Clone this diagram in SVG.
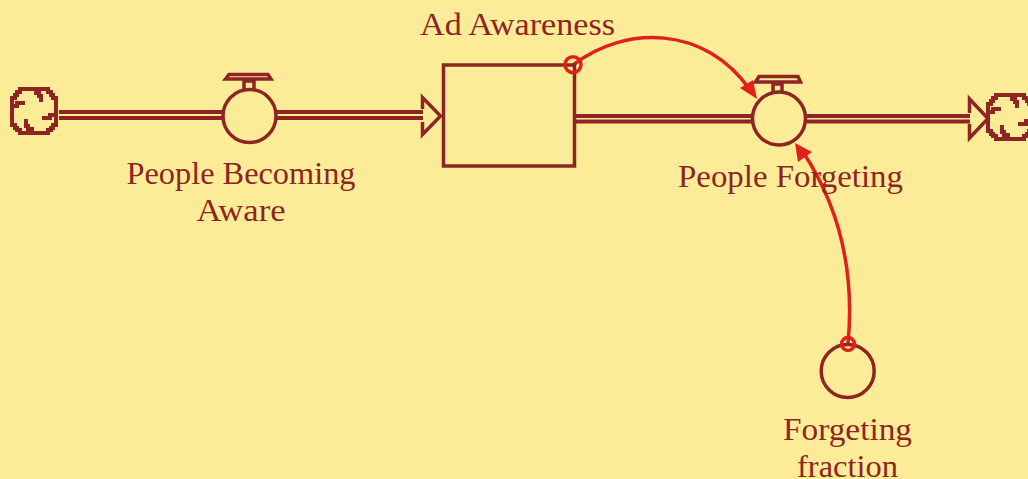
<svg xmlns="http://www.w3.org/2000/svg" width="1028" height="479" viewBox="0 0 1028 479">
<style>
.s{fill:none;stroke:#8f2424;stroke-width:3.500}
.p{stroke:#8f2424;stroke-width:4;fill:none}
.r{fill:none;stroke:#e0201a;stroke-width:3.500}
.a{fill:#e0201a}
.c{fill:none;stroke:#8f2424;stroke-width:4;shape-rendering:crispEdges}
text{font-family:"Liberation Serif","DejaVu Serif",serif;font-size:32px;fill:#8f2424;text-anchor:middle}
</style>
<defs>
<g id="cloud">
<path class="c" d="M-14,-22H14V-19H17V-16H19V-13H22V14H19V17H17V19H14V22H-14V19H-17V17H-19V14H-22V-13H-19V-16H-17V-19H-14Z"/>
<path class="c" d="M2,-22V-18H5V-15H7V-9M22,1V4H16V7H8M-2,22V18H-6V15H-8V8M-22,-2V-5H-17V-8H-9"/>
</g>
</defs>
<rect width="1028" height="479" fill="#fcec97"/>
<g id="connectors">
<path class="p" d="M59,112H222M59,118H222M277,112H423M277,118H423"/>
<path class="s" d="M422.500,109V97.500L440.500,116L422.500,134.500V122"/>
<path class="p" d="M575,116H752M575,121.500H752M807,116H970M807,121.500H970"/>
<path class="s" d="M969.500,113V99L988,118.500L969.500,138V124"/>
<path class="r" d="M573,65C625,25 705,25 750,90"/>
<polygon class="a" points="757,99 740,88 753,80"/>
<path class="r" d="M848,344C855,270 838,205 803,152"/>
<polygon class="a" points="795,143 812,152 798,162"/>
</g>
<g id="cloud-left"><use href="#cloud" x="34" y="111"/></g>
<g id="cloud-right"><use href="#cloud" x="1010" y="117"/></g>
<g id="people-becoming-aware">
<circle class="s" cx="249.500" cy="116" r="26.500"/>
<path class="s" d="M244,89V81H254V89M225.500,79L229,74.500H268L271,79Z"/>
<text x="241" y="184" textLength="229" lengthAdjust="spacingAndGlyphs">People Becoming</text>
<text x="241" y="221" textLength="89" lengthAdjust="spacingAndGlyphs">Aware</text>
</g>
<g id="ad-awareness">
<rect class="s" x="443.500" y="65" width="131" height="101"/>
<circle class="r" cx="573" cy="64.700" r="8"/>
<text x="517.500" y="35" textLength="195" lengthAdjust="spacingAndGlyphs">Ad Awareness</text>
</g>
<g id="people-forgeting">
<circle class="s" cx="779" cy="118.500" r="26.500"/>
<path class="s" d="M773,92V84H782V92M755.500,82L759,76.500H798L800.500,82Z"/>
<text x="790.500" y="187" textLength="225" lengthAdjust="spacingAndGlyphs">People Forgeting</text>
</g>
<g id="forgeting-fraction">
<circle class="s" cx="847.700" cy="371" r="26.500"/>
<circle class="r" cx="848" cy="344" r="6.500"/>
<text x="847.500" y="440" textLength="129" lengthAdjust="spacingAndGlyphs">Forgeting</text>
<text x="847.500" y="477" textLength="101" lengthAdjust="spacingAndGlyphs">fraction</text>
</g>
</svg>
